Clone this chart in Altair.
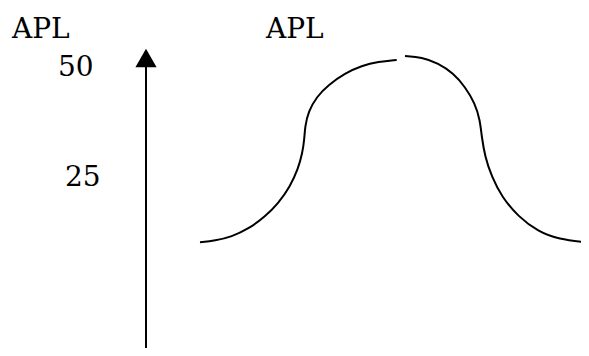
import altair as alt
import pandas as pd

# APL curve (x: horizontal position, apl: value on the APL scale)
left_x = [200, 215, 231.7, 248.3, 265, 278.3, 290, 298.3, 302.3, 304.3, 305, 308.3,
          316.7, 328.3, 345, 361.7, 378.3, 396.7]
left_apl = [9.82, 10.18, 11.09, 12.84, 15.64, 18.68, 22.45, 26.64, 30.05, 33.07, 36.09,
            39.5, 42.91, 45.57, 48.23, 49.95, 50.86, 51.25]
right_x = [405, 421.7, 438.3, 453.3, 465, 475, 480, 481.7, 485, 491.7, 501.7, 518.3,
           538.3, 558.3, 588.3]
right_apl = [52.16, 51.86, 50.5, 48.23, 45.18, 41.41, 37.61, 33.82, 29.27, 24.73, 20.18,
             15.64, 12.23, 10.5, 9.73]

tick_values = [50, 25]
tick_labels = ["50", "25"]
title_labels = ["APL", "APL"]

curve = pd.DataFrame({
    "x": left_x + right_x,
    "apl": left_apl + right_apl,
    "seg": ["left"] * len(left_x) + ["right"] * len(right_x),
})
ticks = pd.DataFrame({"apl": tick_values, "label": tick_labels})

FONT = "DejaVu Serif"
FS = 28
xs = alt.Scale(domain=[8, 581], nice=False, zero=False)
ys = alt.Scale(domain=[-14.205, 63.068], nice=False, zero=False)

line = alt.Chart(curve).mark_line(color="black", strokeWidth=2, interpolate="basis").encode(
    x=alt.X("x:Q", scale=xs, axis=None),
    y=alt.Y("apl:Q", scale=ys, axis=None),
    detail="seg:N",
)

tick50 = alt.Chart(ticks).transform_filter(alt.datum.apl == 50).mark_text(
    font=FONT, fontSize=FS, align="left", baseline="middle", color="black", dy=2.5).encode(
    x=alt.value(50),
    y=alt.Y("apl:Q", scale=ys, axis=None),
    text="label:N",
)
tick25 = alt.Chart(ticks).transform_filter(alt.datum.apl == 25).mark_text(
    font=FONT, fontSize=FS, align="left", baseline="middle", color="black", dy=2.5).encode(
    x=alt.value(57),
    y=alt.Y("apl:Q", scale=ys, axis=None),
    text="label:N",
)

base = alt.Chart(pd.DataFrame({"k": [0]}))
title_left = base.mark_text(font=FONT, fontSize=FS, align="left", baseline="alphabetic",
                            color="black", text=title_labels[0]).encode(
    x=alt.value(4), y=alt.value(30))
title_right = base.mark_text(font=FONT, fontSize=FS, align="left", baseline="alphabetic",
                             color="black", text=title_labels[1]).encode(
    x=alt.value(258), y=alt.value(30))

shaft = base.mark_rule(color="black", strokeWidth=2).encode(
    x=alt.value(138), y=alt.value(55), y2=alt.value(340))
head = base.mark_point(shape="triangle-up", filled=True, color="black", size=450, opacity=1).encode(
    x=alt.value(138), y=alt.value(50))

chart = alt.layer(line, tick50, tick25, title_left, title_right, shaft, head).properties(
    width=573, height=340, padding=0, autosize=alt.AutoSizeParams(type="none"),
    background="white",
).configure_view(stroke=None)

chart.save("out.html", embed_options={"renderer": "svg", "actions": False})
